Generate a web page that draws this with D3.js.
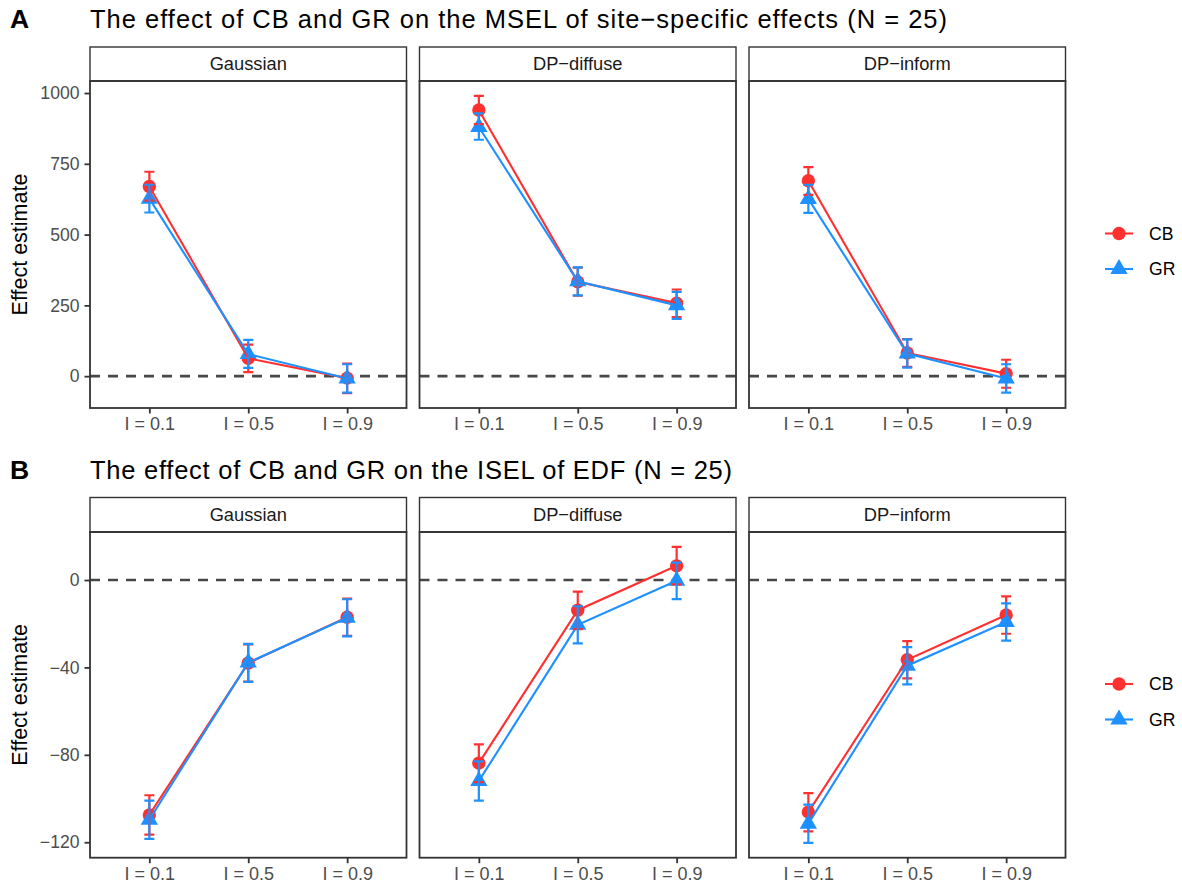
<!DOCTYPE html>
<html>
<head>
<meta charset="utf-8">
<script src="https://cdn.jsdelivr.net/npm/d3@7"></script>
<style>
  html, body { margin: 0; padding: 0; background: #fff; }
  svg { display: block; font-family: "Liberation Sans", Arial, sans-serif; }
</style>
</head>
<body>
<svg id="fig" width="1182" height="886"></svg>
<script>
// ---- data -------------------------------------------------------------
const facets = ["Gaussian", "DP\u2212diffuse", "DP\u2212inform"];
const levels = ["I = 0.1", "I = 0.5", "I = 0.9"];
const methods = ["CB", "GR"];

// Panel A: MSEL of site-specific effects (rows = facets, cols = levels)
const mselCBEst = [[670, 63, -7], [940, 333, 258], [690, 82, 9]];
const mselCBLo  = [[620, 14, -60], [890, 284, 209], [640, 33, -41]];
const mselCBHi  = [[722, 111, 44], [990, 383, 306], [738, 131, 58]];
const mselGREst = [[627, 78, -8], [880, 335, 250], [626, 80, -8]];
const mselGRLo  = [[578, 29, -58], [835, 285, 202], [577, 30, -58]];
const mselGRHi  = [[676, 128, 42], [928, 384, 298], [676, 130, 42]];
const mselTicks = [0, 250, 500, 750, 1000];

// Panel B: ISEL of EDF
const iselCBEst = [[-107.5, -38, -17], [-83.8, -13.8, 6.5], [-106.2, -36.5, -16]];
const iselCBLo  = [[-116.5, -46.5, -25.5], [-92.5, -22.5, -2], [-115, -45, -24.6]];
const iselCBHi  = [[-98.5, -29.5, -8.5], [-75.2, -5.3, 15.2], [-97.5, -28, -7.5]];
const iselGREst = [[-109.7, -37.8, -17.3], [-92, -20.5, -0.3], [-111.5, -39.2, -19.2]];
const iselGRLo  = [[-118.5, -46.6, -25.8], [-101, -29, -8.7], [-120.3, -47.8, -27.7]];
const iselGRHi  = [[-101, -29.2, -8.8], [-83, -12, 8], [-102.8, -30.7, -10.7]];
const iselTicks = [-120, -80, -40, 0];

// ---- styling ------------------------------------------------------------
const colors = { CB: "#FF3030", GR: "#1E90FF" };
const shapes = { CB: d3.symbolCircle, GR: d3.symbolTriangle };
const shapeSize = { CB: 140, GR: 130 };
const FONT_YTICK = 17.6, FONT_XTICK = 18, FONT_STRIP = 18.3;
const minus = s => String(s).replace("-", "\u2212");

const svg = d3.select("#fig");

const panelLeft = 90, panelW = 316.5, panelGap = 13;

function seriesFor(est, lo, hi) {
  return levels.map((lev, j) => ({ lev, est: est[j], lo: lo[j], hi: hi[j] }));
}

function drawRow(cfg) {
  const { letter, title, titleWidth, stripTop, stripH, panelBottom, ticks, data } = cfg;
  const panelTop = stripTop + stripH;

  // y-range from all estimates and intervals plus the reference line, 5% expansion
  const allVals = [0];
  data.forEach(f => methods.forEach(m => f[m].forEach(d => allVals.push(d.lo, d.hi))));
  const [mn, mx] = d3.extent(allVals);
  const pad = (mx - mn) * 0.05;
  const y = d3.scaleLinear().domain([mn - pad, mx + pad]).range([panelBottom, panelTop]);

  // panel letter and title
  svg.append("text").attr("x", 10).attr("y", panelTop - 53)
    .attr("font-size", 26.5).attr("font-weight", "bold").attr("fill", "#000").text(letter);
  svg.append("text").attr("x", 90).attr("y", panelTop - 53)
    .attr("font-size", 25.5).attr("fill", "#000")
    .attr("textLength", titleWidth).attr("lengthAdjust", "spacing").text(title);

  // y-axis title
  svg.append("text")
    .attr("transform", `translate(27,${(panelTop + panelBottom) / 2}) rotate(-90)`)
    .attr("text-anchor", "middle").attr("font-size", 21.5).attr("fill", "#000")
    .text("Effect estimate");

  facets.forEach((fac, i) => {
    const x0 = panelLeft + i * (panelW + panelGap);
    const x = d3.scalePoint().domain(levels).range([x0, x0 + panelW]).padding(0.6);
    const g = svg.append("g");

    // strip
    g.append("rect").attr("x", x0).attr("y", stripTop).attr("width", panelW).attr("height", stripH)
      .attr("fill", "#fff").attr("stroke", "#333333").attr("stroke-width", 1.4);
    g.append("text").attr("x", x0 + panelW / 2).attr("y", stripTop + 23)
      .attr("text-anchor", "middle").attr("font-size", FONT_STRIP).attr("fill", "#1A1A1A").text(fac);

    // reference line at zero
    g.append("line").attr("x1", x0).attr("x2", x0 + panelW).attr("y1", y(0)).attr("y2", y(0))
      .attr("stroke", "#474747").attr("stroke-width", 2.6).attr("stroke-dasharray", "10,8");

    const marks = g.append("g");
    // points
    methods.forEach(m => {
      marks.selectAll(null).data(data[i][m]).join("path")
        .attr("transform", d => `translate(${x(d.lev)},${y(d.est)})`)
        .attr("d", d3.symbol().type(shapes[m]).size(shapeSize[m]))
        .attr("fill", colors[m]);
    });
    // lines
    const line = d3.line().x(d => x(d.lev)).y(d => y(d.est));
    methods.forEach(m => {
      marks.append("path").datum(data[i][m]).attr("d", line)
        .attr("fill", "none").attr("stroke", colors[m]).attr("stroke-width", 2.1);
    });
    // error bars
    methods.forEach(m => {
      marks.selectAll(null).data(data[i][m]).join("path")
        .attr("d", d => {
          const cx = x(d.lev), yl = y(d.lo), yh = y(d.hi), w = 5;
          return `M${cx - w},${yh}H${cx + w}M${cx},${yh}V${yl}M${cx - w},${yl}H${cx + w}`;
        })
        .attr("fill", "none").attr("stroke", colors[m]).attr("stroke-width", 2.2);
    });

    // panel border
    g.append("rect").attr("x", x0).attr("y", panelTop).attr("width", panelW)
      .attr("height", panelBottom - panelTop)
      .attr("fill", "none").attr("stroke", "#333333").attr("stroke-width", 1.8);

    // x axis
    const xa = g.append("g").attr("transform", `translate(0,${panelBottom})`)
      .call(d3.axisBottom(x).tickSize(5.5).tickPadding(4));
    xa.select(".domain").remove();
    xa.selectAll(".tick line").attr("stroke", "#333333").attr("stroke-width", 1.8);
    xa.selectAll(".tick text").attr("font-size", FONT_XTICK).attr("fill", "#4D4D4D")
      .attr("font-family", null);

    // y axis on the first facet
    if (i === 0) {
      const ya = g.append("g").attr("transform", `translate(${x0},0)`)
        .call(d3.axisLeft(y).tickValues(ticks).tickSize(5.5).tickPadding(5).tickFormat(minus));
      ya.select(".domain").remove();
      ya.selectAll(".tick line").attr("stroke", "#333333").attr("stroke-width", 1.8);
      ya.selectAll(".tick text").attr("font-size", FONT_YTICK).attr("fill", "#4D4D4D")
        .attr("font-family", null);
    }
  });

  // legend
  methods.forEach((m, k) => {
    const ly = stripTop + 186.5 + k * 35.5;
    svg.append("line").attr("x1", 1105).attr("x2", 1133).attr("y1", ly).attr("y2", ly)
      .attr("stroke", colors[m]).attr("stroke-width", 2.1);
    svg.append("path").attr("transform", `translate(1119,${ly})`)
      .attr("d", d3.symbol().type(shapes[m]).size(shapeSize[m])).attr("fill", colors[m]);
    svg.append("text").attr("x", 1149).attr("y", ly).attr("dy", "0.35em")
      .attr("font-size", FONT_YTICK).attr("fill", "#000").text(m);
  });
}

function facetData(cbE, cbL, cbH, grE, grL, grH) {
  return facets.map((f, i) => ({
    CB: seriesFor(cbE[i], cbL[i], cbH[i]),
    GR: seriesFor(grE[i], grL[i], grH[i])
  }));
}

drawRow({
  letter: "A",
  title: "The effect of CB and GR on the MSEL of site\u2212specific effects (N = 25)",
  titleWidth: 857,
  stripTop: 47, stripH: 34, panelBottom: 408, ticks: mselTicks,
  data: facetData(mselCBEst, mselCBLo, mselCBHi, mselGREst, mselGRLo, mselGRHi)
});

drawRow({
  letter: "B",
  title: "The effect of CB and GR on the ISEL of EDF (N = 25)",
  titleWidth: 642,
  stripTop: 497.5, stripH: 34.5, panelBottom: 857.7, ticks: iselTicks,
  data: facetData(iselCBEst, iselCBLo, iselCBHi, iselGREst, iselGRLo, iselGRHi)
});
</script>
</body>
</html>
